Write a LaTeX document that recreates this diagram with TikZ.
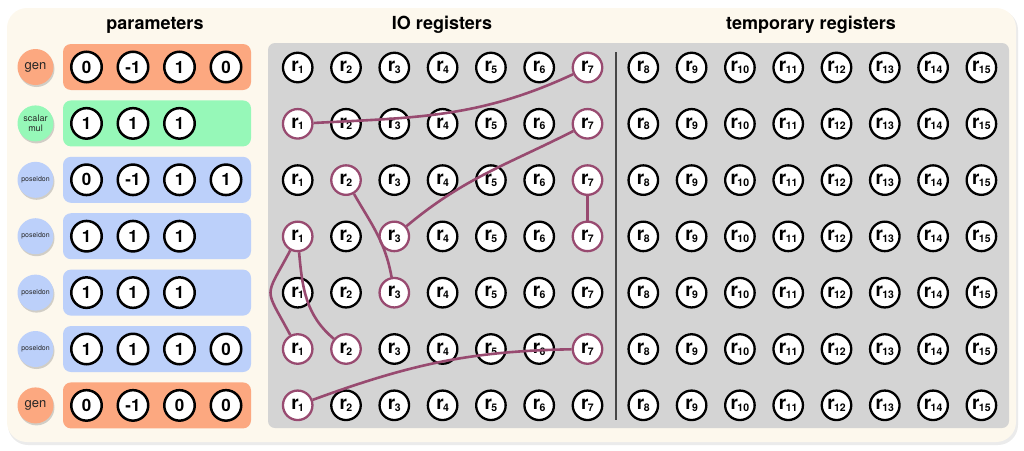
\documentclass[tikz,border=0pt]{standalone}
\usepackage{fontspec}
\setmainfont{TeX Gyre Heros}
\usetikzlibrary{shadows}
\definecolor{cream}{RGB}{253,248,237}
\definecolor{regbg}{RGB}{212,212,212}
\definecolor{genc}{RGB}{252,168,128}
\definecolor{scalc}{RGB}{150,248,184}
\definecolor{posc}{RGB}{188,208,250}
\definecolor{hl}{RGB}{152,74,112}
\definecolor{divc}{RGB}{70,70,70}
\newcommand{\reglab}[1]{{\bfseries\fontsize{19}{19}\selectfont r\kern-0.6pt\raisebox{-1.8pt}{\fontsize{10.5}{10.5}\selectfont #1}}}
\begin{document}
\begin{tikzpicture}[x=1pt,y=1pt,
  reg/.style={circle, draw=black, line width=2.3pt, fill=white, minimum size=29.5pt, inner sep=0pt},
  par/.style={circle, draw=black, line width=2.5pt, fill=white, minimum size=30.5pt, inner sep=0pt, font=\bfseries\fontsize{17}{17}\selectfont},
  lab/.style={circle, minimum size=36pt, inner sep=0pt, text=black!85,
    drop shadow={shadow xshift=1pt, shadow yshift=-2pt, opacity=0.35}},
  pbox/.style={rounded corners=8pt, minimum width=188pt, minimum height=46pt, inner sep=0pt},
  conn/.style={draw=hl, line width=2.6pt},
  ttl/.style={font=\fontsize{18}{18}\selectfont\bfseries},
  hl-1-7/.style={draw=hl},
  hl-2-1/.style={draw=hl}, hl-2-7/.style={draw=hl},
  hl-3-2/.style={draw=hl}, hl-3-7/.style={draw=hl},
  hl-4-1/.style={draw=hl}, hl-4-3/.style={draw=hl}, hl-4-7/.style={draw=hl},
  hl-5-3/.style={draw=hl},
  hl-6-1/.style={draw=hl}, hl-6-2/.style={draw=hl}, hl-6-7/.style={draw=hl},
  hl-7-1/.style={draw=hl}
]
\useasboundingbox (0,0) rectangle (1024,-450);
% background
\fill[black!8, rounded corners=20pt] (8,-10) rectangle (1018,-445);
\fill[cream, rounded corners=20pt] (7,-8) rectangle (1016,-442);
\fill[regbg, rounded corners=7pt] (268,-43) rectangle (1009,-428);
\draw[divc, line width=1.5pt] (616,-52) -- (616,-420);
% titles
\node[ttl] (t1) at (155,-25) {parameters};
\node[ttl] (t2) at (442,-25) {IO registers};
\node[ttl] (t3) at (811,-25) {temporary registers};
% parameter rows
\foreach \r/\col/\lbl/\vals in {
  1/genc/{\fontsize{13}{13}\selectfont gen}/{0,-1,1,0},
  2/scalc/{\fontsize{9}{11}\selectfont\shortstack{scalar\\mul}}/{1,1,1},
  3/posc/{\fontsize{7}{7}\selectfont poseidon}/{0,-1,1,1},
  4/posc/{\fontsize{7}{7}\selectfont poseidon}/{1,1,1},
  5/posc/{\fontsize{7}{7}\selectfont poseidon}/{1,1,1},
  6/posc/{\fontsize{7}{7}\selectfont poseidon}/{1,1,1,0},
  7/genc/{\fontsize{13}{13}\selectfont gen}/{0,-1,0,0}}{
  \pgfmathsetmacro{\yy}{-(67+56.4*(\r-1))}
  \node[lab, fill=\col] (lab-\r) at (35.5,\yy) {\lbl};
  \node[pbox, fill=\col] (box-\r) at (157,\yy) {};
  \foreach \v [count=\i] in \vals {
    \pgfmathsetmacro{\xx}{86.5+46.5*(\i-1)}
    \node[par] (p-\r-\i) at (\xx,\yy) {\v};
  }
}
% registers
\foreach \r in {1,...,7}{
  \foreach \c in {1,...,15}{
    \pgfmathsetmacro{\xx}{ifthenelse(\c<8, 297.7+48.3*(\c-1), 643.3+48.3*(\c-8))}
    \pgfmathsetmacro{\yy}{-(67.5+56.3*(\r-1))}
    \node[reg, hl-\r-\c/.try] (r-\r-\c) at (\xx,\yy) {\reglab{\c}};
  }
}
% connections
\draw[conn] (r-2-1) to[out=3, in=205] (r-1-7);
\draw[conn] (r-2-7) to[out=207, in=40] (r-4-3);
\draw[conn] (r-3-2) to[out=300, in=100] (r-5-3);
\draw[conn] (r-3-7) -- (r-4-7);
\draw[conn] (r-4-1) to[out=242, in=118, looseness=1.7] (r-6-1);
\draw[conn] (r-4-1) to[out=275, in=140] (r-6-2);
\draw[conn] (r-6-7) to[out=181, in=20] (r-7-1);
\end{tikzpicture}
\end{document}
